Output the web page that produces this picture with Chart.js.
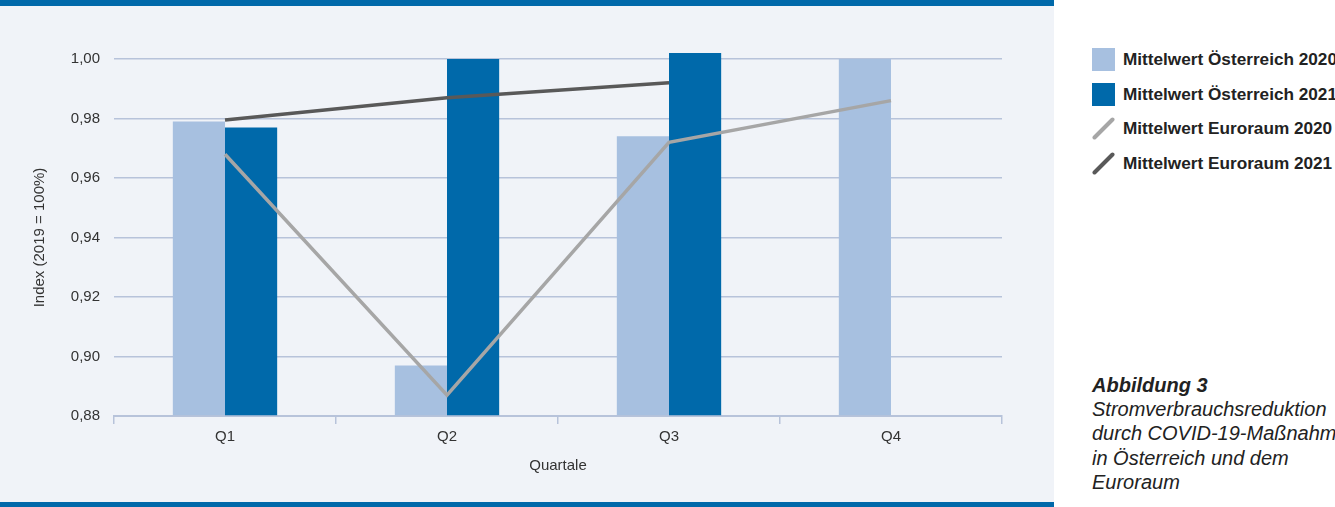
<!DOCTYPE html>
<html lang="de">
<head>
<meta charset="utf-8">
<script src="https://cdn.jsdelivr.net/npm/chart.js@4/dist/chart.umd.min.js"></script>
<style>
  html, body { margin: 0; padding: 0; width: 1335px; height: 507px; overflow: hidden; background: #ffffff; font-family: "Liberation Sans", Arial, sans-serif; }
  #panel { position: absolute; left: 0; top: 0; width: 1054px; height: 507px; background: #f0f3f8; }
  #topbar { position: absolute; left: 0; top: 0; width: 1054px; height: 6px; background: #0069aa; }
  #botbar { position: absolute; left: 0; top: 502px; width: 1054px; height: 5px; background: #0069aa; }
  #wrap { position: absolute; left: 0; top: 6px; width: 1054px; height: 496px; }
  #legend { position: absolute; left: 1092px; top: 44px; }
  .li { position: relative; height: 34.5px; white-space: nowrap; }
  .li .sw { position: absolute; left: 0; top: 4px; width: 23px; height: 23px; }
  .li .tx { position: absolute; left: 31px; top: 5px; font-weight: bold; font-size: 17.2px; color: #222; }
  #caption { position: absolute; left: 1092px; top: 373px; width: 300px; font-size: 20px; line-height: 24.2px; color: #222; font-style: italic; white-space: nowrap; }
  #caption b { font-weight: bold; }
</style>
</head>
<body>
<div id="panel"></div>
<div id="topbar"></div>
<div id="botbar"></div>
<div id="wrap"><canvas id="c" width="1054" height="496"></canvas></div>
<div id="legend"></div>
<div id="caption"><b>Abbildung 3</b><br>Stromverbrauchsreduktion<br>durch COVID-19-Maßnahmen<br>in Österreich und dem<br>Euroraum</div>
<script>
const categories = ["Q1", "Q2", "Q3", "Q4"];
const oesterreich2020 = [0.979, 0.897, 0.974, 1.000];
const oesterreich2021 = [0.977, 1.000, 1.002, null];
const euroraum2020 = [0.968, 0.887, 0.972, 0.986];
const euroraum2021 = [0.9795, 0.987, 0.992, null];
const seriesNames = ["Mittelwert Österreich 2020", "Mittelwert Österreich 2021", "Mittelwert Euroraum 2020", "Mittelwert Euroraum 2021"];
const yTitle = "Index (2019 = 100%)";
const xTitle = "Quartale";

const colors = ["#a7c0e0", "#0069aa", "#a6a6a6", "#595959"];

// HTML legend
const leg = document.getElementById('legend');
seriesNames.forEach((n, i) => {
  const row = document.createElement('div');
  row.className = 'li';
  let sw;
  if (i < 2) {
    sw = `<div class="sw" style="background:${colors[i]}"></div>`;
  } else {
    sw = `<svg class="sw" viewBox="0 0 23 23"><line x1="2.5" y1="20.5" x2="20.5" y2="2.5" stroke="${colors[i]}" stroke-width="4" stroke-linecap="round"/></svg>`;
  }
  row.innerHTML = sw + `<div class="tx">${n}</div>`;
  leg.appendChild(row);
});

const gridColor = "#b7c3da";
const fontFam = "'Liberation Sans', Arial, sans-serif";
const yMin = 0.88;

new Chart(document.getElementById('c'), {
  data: {
    labels: categories,
    datasets: [
      { type: 'line', label: seriesNames[3], data: euroraum2021, borderColor: colors[3], borderWidth: 3.5, pointRadius: 0, tension: 0, order: 0 },
      { type: 'line', label: seriesNames[2], data: euroraum2020, borderColor: colors[2], borderWidth: 3.5, pointRadius: 0, tension: 0, order: 1 },
      { type: 'bar', label: seriesNames[0], data: oesterreich2020, backgroundColor: colors[0], categoryPercentage: 0.47, barPercentage: 1.0, order: 2, base: yMin, clip: false },
      { type: 'bar', label: seriesNames[1], data: oesterreich2021, backgroundColor: colors[1], categoryPercentage: 0.47, barPercentage: 1.0, order: 2, base: yMin, clip: false }
    ]
  },
  options: {
    responsive: false,
    animation: false,
    devicePixelRatio: 1,
    layout: { padding: { left: 27, right: 52, top: 53, bottom: 0 } },
    plugins: { legend: { display: false }, tooltip: { enabled: false } },
    scales: {
      x: {
        offset: true,
        grid: { display: true, drawOnChartArea: false, drawTicks: true, tickLength: 8, color: gridColor, lineWidth: 1.5, offset: true },
        border: { display: true, color: gridColor, width: 2 },
        ticks: { color: '#333', font: { family: fontFam, size: 15 }, padding: 4 },
        title: { display: true, text: xTitle, color: '#333', font: { family: fontFam, size: 15 }, padding: { top: 9, bottom: 27 } },
        afterFit: (s) => { s.height = 86; }
      },
      y: {
        min: yMin, max: 1.00,
        ticks: { stepSize: 0.02, color: '#333', font: { family: fontFam, size: 15 }, padding: 14,
          callback: (v) => v.toFixed(2).replace('.', ',') },
        grid: { color: gridColor, lineWidth: 1.5, drawTicks: false },
        border: { display: false },
        title: { display: true, text: yTitle, color: '#333', font: { family: fontFam, size: 15 }, padding: { bottom: 4 } },
        afterFit: (s) => { s.width = 87; }
      }
    }
  }
});
</script>
</body>
</html>
